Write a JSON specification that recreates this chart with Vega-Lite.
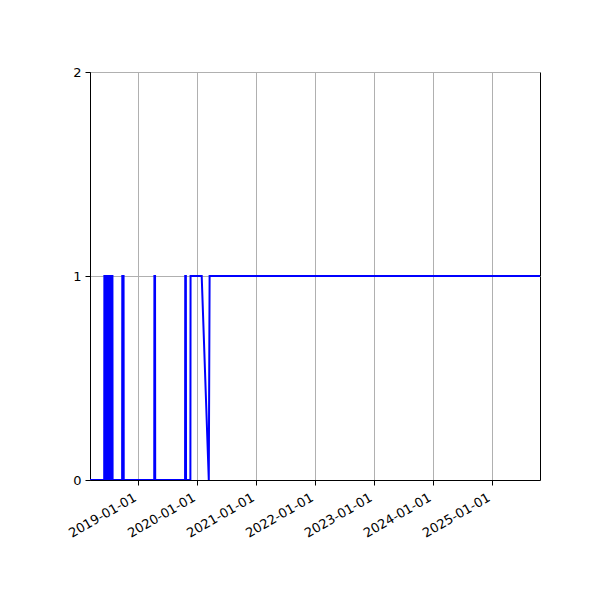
{
  "$schema": "https://vega.github.io/schema/vega-lite/v6.json",
  "description": "Step-like 0/1 series over time, matplotlib look.",
  "width": 450,
  "height": 408,
  "autosize": {"type": "none"},
  "padding": {"left": 90, "top": 72, "right": 60, "bottom": 120},
  "data": {
    "values": [
      {"date": "2018-03-10", "value": 0},
      {"date": "2018-06-06", "value": 0},
      {"date": "2018-06-07", "value": 1},
      {"date": "2018-06-13", "value": 1},
      {"date": "2018-06-14", "value": 0},
      {"date": "2018-06-18", "value": 0},
      {"date": "2018-06-19", "value": 1},
      {"date": "2018-06-27", "value": 1},
      {"date": "2018-06-28", "value": 0},
      {"date": "2018-07-02", "value": 0},
      {"date": "2018-07-03", "value": 1},
      {"date": "2018-07-12", "value": 1},
      {"date": "2018-07-13", "value": 0},
      {"date": "2018-07-17", "value": 0},
      {"date": "2018-07-18", "value": 1},
      {"date": "2018-07-27", "value": 1},
      {"date": "2018-07-28", "value": 0},
      {"date": "2018-09-25", "value": 0},
      {"date": "2018-09-26", "value": 1},
      {"date": "2018-10-04", "value": 1},
      {"date": "2018-10-05", "value": 0},
      {"date": "2019-04-12", "value": 0},
      {"date": "2019-04-13", "value": 1},
      {"date": "2019-04-17", "value": 1},
      {"date": "2019-04-18", "value": 0},
      {"date": "2019-10-20", "value": 0},
      {"date": "2019-10-21", "value": 1},
      {"date": "2019-10-25", "value": 1},
      {"date": "2019-10-26", "value": 0},
      {"date": "2019-11-22", "value": 0},
      {"date": "2019-11-23", "value": 1},
      {"date": "2020-01-31", "value": 1},
      {"date": "2020-03-15", "value": 0},
      {"date": "2020-03-20", "value": 1},
      {"date": "2025-10-27", "value": 1}
    ]
  },
  "mark": {"type": "line", "color": "#0000ff", "strokeWidth": 2, "clip": true},
  "encoding": {
    "x": {
      "field": "date",
      "type": "temporal",
      "title": null,
      "scale": {
        "type": "utc",
        "domain": [
          {"year": 2018, "month": 3, "date": 10, "utc": true},
          {"year": 2025, "month": 10, "date": 27, "utc": true}
        ]
      },
      "axis": {
        "values": [
          {"year": 2019, "month": 1, "date": 1, "utc": true},
          {"year": 2020, "month": 1, "date": 1, "utc": true},
          {"year": 2021, "month": 1, "date": 1, "utc": true},
          {"year": 2022, "month": 1, "date": 1, "utc": true},
          {"year": 2023, "month": 1, "date": 1, "utc": true},
          {"year": 2024, "month": 1, "date": 1, "utc": true},
          {"year": 2025, "month": 1, "date": 1, "utc": true}
        ],
        "labelExpr": "utcFormat(datum.value, '%Y-%m-%d')",
        "labelAngle": -30,
        "labelAlign": "right",
        "labelBaseline": "top",
        "labelOverlap": false,
        "labelOffset": -6,
        "labelPadding": 6,
        "grid": true
      }
    },
    "y": {
      "field": "value",
      "type": "quantitative",
      "title": null,
      "scale": {"domain": [0, 2], "nice": false, "zero": true},
      "axis": {"values": [0, 1, 2], "tickCount": 3, "labelExpr": "format(datum.value, 'd')", "grid": true}
    }
  },
  "config": {
    "view": {"stroke": "black", "strokeWidth": 1},
    "axis": {
      "domainColor": "black",
      "domainWidth": 1,
      "tickColor": "black",
      "tickSize": 5,
      "tickWidth": 1,
      "labelColor": "black",
      "labelFont": "DejaVu Sans",
      "labelFontSize": 13,
      "labelPadding": 4,
      "gridColor": "#b0b0b0",
      "gridWidth": 1,
      "gridOpacity": 1
    }
  }
}
